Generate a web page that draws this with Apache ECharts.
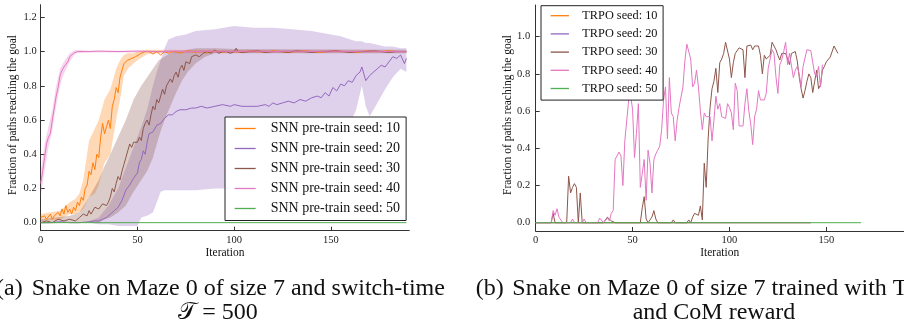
<!DOCTYPE html>
<html><head><meta charset="utf-8">
<script src="https://cdn.jsdelivr.net/npm/echarts@6/dist/echarts.min.js"></script>
<style>html,body{margin:0;padding:0;background:#fff}#c{width:904px;height:325px}</style>
</head><body><div id="c"></div><script>
// ---------- Panel (a): SNN pre-train ----------
const leftNames = ['SNN pre-train seed: 10','SNN pre-train seed: 20','SNN pre-train seed: 30','SNN pre-train seed: 40','SNN pre-train seed: 50'];
const rightNames = ['TRPO seed: 10','TRPO seed: 20','TRPO seed: 30','TRPO seed: 40','TRPO seed: 50'];
const colors = ['#ff7f0e','#9467bd','#8c564b','#e377c2','#4fae4f'];
const xTicks = [0,50,100,150];
const yTicksLeft = [0,0.2,0.4,0.6,0.8,1.0,1.2];
const yTicksRight = [0,0.2,0.4,0.6,0.8,1.0];

const a10 = [[0,0.03],[1,0.02],[2,0.04],[3,0.02],[4,0.03],[5,0.05],[6,0.02],[7,0.04],[8,0.03],[9,0.06],[10,0.04],[11,0.08],[12,0.05],[13,0.1],[14,0.06],[15,0.08],[16,0.05],[17,0.09],[18,0.07],[19,0.12],[20,0.1],[21,0.15],[22,0.13],[23,0.2],[24,0.22],[25,0.3],[26,0.28],[27,0.35],[28,0.31],[29,0.4],[30,0.38],[31,0.5],[32,0.58],[33,0.52],[34,0.56],[35,0.6],[36,0.55],[37,0.68],[38,0.72],[39,0.79],[40,0.76],[41,0.85],[42,0.84],[43,0.93],[44,0.92],[45,0.95],[46,0.94],[47,0.96],[48,0.95],[49,0.97],[50,0.98],[52,0.99],[54,1.0],[56,1.0],[58,0.985],[60,1.0],[62,0.98],[64,1.0],[66,0.99],[68,1.0],[70,1.0],[72,0.99],[74,1.0],[76,1.005],[78,1.0],[80,0.995],[82,1.0],[84,1.0],[86,0.99],[88,1.0],[90,1.005],[92,1.0],[94,0.995],[96,1.0],[98,1.0],[100,1.0],[104,0.995],[108,1.005],[112,1.0],[116,0.995],[120,1.005],[124,1.0],[128,0.995],[132,1.0],[136,1.005],[140,1.0],[144,0.995],[148,1.0],[152,1.005],[156,1.0],[160,1.0],[164,0.995],[168,1.005],[172,1.0],[176,1.0],[180,1.005],[184,1.0],[188,1.0],[189,1.0]];
const a10Band = [[0,0.01,0.05],[10,0.02,0.07],[15,0.05,0.12],[18,0.05,0.14],[20,0.06,0.17],[22,0.08,0.25],[25,0.15,0.48],[28,0.17,0.55],[30,0.22,0.6],[33,0.35,0.72],[36,0.4,0.78],[39,0.6,0.9],[41,0.72,0.95],[43,0.86,0.98],[45,0.9,0.99],[48,0.93,0.99],[50,0.95,1.0],[55,0.985,1.01],[60,0.99,1.01],[189,0.995,1.005]];

const a20 = [[0,0.0],[5,0.0],[10,0.005],[15,0.0],[20,0.0],[25,0.005],[28,0.01],[30,0.01],[32,0.02],[34,0.03],[36,0.05],[38,0.07],[40,0.09],[42,0.13],[44,0.19],[46,0.22],[48,0.26],[50,0.29],[51,0.35],[52,0.37],[53,0.42],[54,0.40],[55,0.47],[56,0.52],[58,0.53],[60,0.57],[62,0.58],[64,0.61],[66,0.63],[68,0.63],[70,0.65],[72,0.66],[75,0.66],[78,0.67],[80,0.67],[83,0.68],[86,0.67],[90,0.68],[94,0.69],[98,0.68],[100,0.69],[104,0.68],[108,0.68],[112,0.68],[116,0.69],[118,0.68],[120,0.70],[122,0.69],[125,0.70],[128,0.71],[131,0.70],[134,0.72],[137,0.71],[140,0.73],[143,0.74],[145,0.73],[147,0.76],[149,0.74],[151,0.79],[153,0.77],[155,0.81],[157,0.80],[159,0.83],[161,0.82],[163,0.86],[165,0.88],[166,0.91],[167,0.87],[168,0.83],[170,0.86],[172,0.88],[174,0.90],[176,0.92],[178,0.91],[180,0.94],[182,0.97],[184,0.96],[186,0.98],[187,0.97],[188,0.93],[189,0.96]];
const a20Band = [[25,0.0,0.01],[30,-0.01,0.03],[35,-0.01,0.1],[40,-0.02,0.2],[45,-0.02,0.35],[50,-0.02,0.5],[52,0.03,0.56],[55,0.04,0.66],[58,0.06,0.8],[60,0.12,0.88],[62,0.18,0.95],[64,0.19,1.02],[66,0.19,1.07],[70,0.19,1.09],[75,0.19,1.1],[80,0.19,1.12],[90,0.2,1.13],[100,0.2,1.15],[110,0.21,1.14],[120,0.21,1.14],[130,0.21,1.13],[140,0.22,1.12],[150,0.3,1.1],[155,0.45,1.09],[160,0.58,1.07],[163,0.66,1.06],[166,0.8,1.06],[168,0.68,1.05],[170,0.62,1.05],[174,0.7,1.04],[178,0.78,1.03],[182,0.85,1.03],[186,0.9,1.02],[189,0.88,1.02]];

const a30 = [[0,0.0],[3,0.01],[6,0.0],[9,0.02],[12,0.01],[15,0.02],[18,0.01],[20,0.03],[22,0.05],[24,0.04],[25,0.07],[26,0.05],[28,0.09],[30,0.08],[32,0.11],[34,0.1],[35,0.12],[36,0.15],[37,0.2],[38,0.18],[39,0.23],[40,0.27],[41,0.25],[42,0.3],[43,0.34],[44,0.38],[45,0.42],[46,0.46],[47,0.44],[48,0.47],[49,0.46],[50,0.47],[51,0.5],[52,0.48],[53,0.55],[54,0.58],[55,0.6],[56,0.57],[57,0.63],[58,0.68],[59,0.66],[60,0.72],[61,0.7],[62,0.74],[63,0.78],[64,0.75],[65,0.8],[66,0.79],[67,0.84],[68,0.82],[69,0.86],[70,0.88],[71,0.85],[72,0.9],[73,0.92],[74,0.89],[75,0.94],[76,0.95],[77,0.93],[78,0.97],[79,0.96],[80,0.98],[82,0.97],[84,0.99],[86,1.0],[88,0.99],[90,1.01],[92,0.99],[94,1.0],[96,1.0],[98,0.99],[100,1.0],[101,1.02],[102,1.0],[104,0.995],[108,1.0],[112,1.005],[116,0.995],[120,1.0],[124,1.0],[128,0.995],[132,1.005],[136,1.0],[140,0.995],[144,1.0],[148,1.0],[152,1.005],[156,1.0],[160,0.995],[164,1.0],[168,1.0],[172,1.005],[176,1.0],[180,0.995],[184,1.0],[188,1.0],[189,1.0]];
const a30Band = [[0,-0.005,0.02],[15,0.0,0.04],[20,0.0,0.06],[25,0.0,0.15],[30,0.0,0.25],[33,0.02,0.33],[36,0.03,0.4],[40,0.06,0.5],[44,0.1,0.6],[48,0.18,0.72],[52,0.25,0.8],[55,0.3,0.85],[58,0.38,0.9],[61,0.5,0.95],[64,0.6,0.97],[67,0.68,0.99],[70,0.76,1.0],[73,0.83,1.0],[76,0.88,1.01],[80,0.93,1.02],[85,0.97,1.02],[90,0.99,1.02],[100,0.99,1.015],[189,0.99,1.01]];

const a40 = [[0,0.23],[1,0.3],[2,0.38],[3,0.46],[4,0.5],[5,0.52],[6,0.6],[7,0.67],[8,0.74],[9,0.79],[10,0.86],[11,0.89],[12,0.91],[13,0.92],[14,0.94],[15,0.97],[16,0.97],[17,0.99],[18,1.0],[19,1.0],[20,0.995],[22,1.0],[25,1.0],[30,1.003],[40,1.0],[50,1.003],[60,1.0],[70,1.003],[80,1.0],[90,1.003],[100,1.0],[110,1.003],[120,1.0],[130,1.003],[140,1.0],[150,1.003],[160,1.0],[170,1.003],[180,1.0],[189,1.0]];
const a40Band = [[0,0.15,0.3],[2,0.3,0.46],[4,0.44,0.56],[6,0.54,0.66],[8,0.68,0.8],[10,0.8,0.9],[12,0.87,0.94],[15,0.94,0.99],[18,0.99,1.01],[25,0.995,1.005],[189,0.995,1.005]];

const a50 = [[0,0.0],[189,0.0]];

// ---------- Panel (b): TRPO ----------
const b10 = [[0,0],[142,0]];
const b20 = [[0,0],[142,0]];
const b30 = [[0,0],[8,0],[9,0.05],[10,0],[16,0],[17,0.25],[18,0.16],[19,0.19],[20,0.21],[21,0.19],[22,0],[23,0.16],[24,0],[35,0],[36,0.01],[37,0.03],[38,0.04],[39,0.01],[40,0.02],[41,0],[54,0],[55,0.08],[56,0.14],[57,0.02],[58,0],[59,0],[60,0.03],[61,0.065],[62,0.02],[63,0],[65,0],[66,0.01],[67,0],[70,0],[71,0.015],[72,0],[78,0],[79,0.015],[80,0],[81,0.03],[82,0.05],[83,0.05],[84,0.04],[85,0.09],[86,0.015],[87,0.32],[88,0.19],[89,0.45],[90,0.62],[91,0.72],[92,0.76],[93,0.83],[94,0.7],[95,0.86],[96,0.88],[97,0.91],[98,0.97],[99,0.97],[100,0.88],[101,0.78],[102,0.86],[103,0.91],[104,0.9],[105,0.94],[106,0.94],[107,0.93],[108,0.78],[109,0.95],[110,0.96],[111,0.955],[112,0.93],[113,0.95],[114,0.955],[115,0.95],[116,0.9],[117,0.8],[118,0.9],[119,0.88],[120,0.87],[121,0.9],[122,0.97],[123,0.96],[124,0.93],[125,0.9],[126,0.875],[127,0.91],[128,0.9],[129,0.91],[130,0.91],[131,0.85],[132,0.91],[133,0.92],[134,0.92],[135,0.87],[136,0.785],[137,0.72],[138,0.67],[139,0.71],[140,0.76],[141,0.8],[142,0.78],[143,0.7],[144,0.76],[145,0.82],[146,0.72],[147,0.74],[148,0.82],[149,0.84],[150,0.865],[151,0.87],[152,0.89],[153,0.9],[154,0.95],[155,0.93],[156,0.91]];
const b40 = [[0,0],[8,0],[9,0.065],[10,0.04],[11,0.075],[12,0.03],[13,0.03],[14,0],[18,0],[19,0.02],[20,0],[24,0],[25,0.02],[26,0],[32,0],[33,0.025],[34,0.025],[35,0],[36,0],[37,0.025],[38,0.01],[39,0.05],[40,0.065],[41,0.34],[42,0.34],[43,0.38],[44,0.36],[45,0.2],[46,0.44],[47,0.45],[48,0.66],[49,0.68],[50,0.61],[51,0.35],[52,0.48],[53,0.64],[54,0.19],[55,0.19],[56,0.34],[57,0.12],[58,0.39],[59,0.32],[60,0.16],[61,0.34],[62,0.37],[63,0.39],[64,0.41],[65,0.5],[66,0.66],[67,0.73],[68,0.45],[69,0.78],[70,0.59],[71,0.57],[72,0.44],[73,0.55],[74,0.62],[75,0.63],[76,0.73],[77,0.87],[78,0.96],[79,0.95],[80,0.88],[81,0.73],[82,0.75],[83,0.82],[84,0.73],[85,0.6],[86,0.5],[87,0.59],[88,0.57],[89,0.57],[90,0.57],[91,0.44],[92,0.55],[93,0.68],[94,0.61],[95,0.64],[96,0.57],[97,0.57],[98,0.56],[99,0.64],[100,0.62],[101,0.59],[102,0.5],[103,0.75],[104,0.71],[105,0.52],[106,0.51],[107,0.52],[108,0.64],[109,0.72],[110,0.6],[111,0.53],[112,0.42],[113,0.57],[114,0.61],[115,0.71],[116,0.66],[117,0.67],[118,0.66],[119,0.695],[120,0.83],[121,0.84],[122,0.93],[123,0.91],[124,0.785],[125,0.695],[126,0.85],[127,0.875],[128,0.92],[129,0.97],[130,0.85],[131,0.91],[132,0.91],[133,0.78],[134,0.82],[135,0.84],[136,0.8],[137,0.73],[138,0.84],[139,0.83],[140,0.93],[141,0.925],[142,0.925],[143,0.925],[144,0.8],[145,0.785],[146,0.84],[147,0.73],[148,0.85]];
const b50 = [[0,0],[168,0]];

// ---------- Texts ----------
const yTitle = 'Fraction of paths reaching the goal';
const xTitle = 'Iteration';
const capA1 = 'Snake on Maze 0 of size 7 and switch-time';
const capA2 = '\u{1D4AF} = 500';
const capB1 = 'Snake on Maze 0 of size 7 trained with TRPO';
const capB2 = 'and CoM reward';

const SERIF = '"Liberation Serif", "DejaVu Serif", serif';
const AX = '#333';

function xAxis(gi, max) {
  return {type:'value', gridIndex:gi, min:0, max:max,
    axisLine:{show:true, onZero:false, lineStyle:{color:AX, width:1}},
    axisTick:{show:true, inside:true, length:4, customValues:xTicks, lineStyle:{color:AX}},
    axisLabel:{customValues:xTicks, margin:4, fontFamily:SERIF, fontSize:10.5, color:'#222'},
    splitLine:{show:false}};
}
function yAxis(gi, min, max, ticks, margin) {
  return {type:'value', gridIndex:gi, min:min, max:max,
    axisLine:{show:true, onZero:false, lineStyle:{color:AX, width:1}},
    axisTick:{show:true, inside:true, length:4, customValues:ticks, lineStyle:{color:AX}},
    axisLabel:{customValues:ticks, margin:margin, fontFamily:SERIF, fontSize:10.5, color:'#222',
      formatter:function(v){return v.toFixed(1);}},
    splitLine:{show:false}};
}
function line(name, data, color, gi) {
  return {type:'line', name:name, data:data, xAxisIndex:gi, yAxisIndex:gi,
    symbol:'none', showSymbol:false, clip:true, animation:false, z:3,
    lineStyle:{color:color, width:1}, itemStyle:{color:color}};
}
function band(data, color, gi) {
  return {type:'custom', xAxisIndex:gi, yAxisIndex:gi, data:data, silent:true, animation:false, z:1,
    encode:{x:0, y:[1,2]},
    renderItem:function(params, api){
      if (params.dataIndex !== 0) return null;
      const pts = [];
      for (let i = 0; i < data.length; i++) pts.push(api.coord([data[i][0], data[i][2]]));
      for (let i = data.length - 1; i >= 0; i--) pts.push(api.coord([data[i][0], data[i][1]]));
      return {type:'polygon', shape:{points:pts}, style:{fill:color, opacity:0.3}};
    }};
}
function legend(names, left, top, pad, iw, ih, gap, fs, tpad) {
  return {data:names, orient:'vertical', left:left, top:top, padding:pad,
    itemWidth:iw, itemHeight:ih, itemGap:gap, selectedMode:false,
    backgroundColor:'#fff', borderColor:'#222', borderWidth:1, borderRadius:0,
    itemStyle:{opacity:0},
    lineStyle:{width:1.3},
    textStyle:{fontFamily:SERIF, fontSize:fs, color:'#111', lineHeight:ih, padding:[0,0,0,tpad]}};
}
function txt(x, y, s, size, align, rot) {
  return {type:'text', x:x, y:y, rotation:rot||0, silent:true,
    style:{text:s, fill:'#111', font: size + 'px ' + SERIF, align:align, verticalAlign:'middle'}};
}

const chart = echarts.init(document.getElementById('c'), null, {renderer:'canvas'});
chart.setOption({
  animation:false,
  backgroundColor:'#fff',
  grid:[
    {left:40.7, top:4.7, width:368.6, height:226},
    {left:535.7, top:5, width:368.3, height:226}
  ],
  xAxis:[xAxis(0, 190.5), xAxis(1, 190.1)],
  yAxis:[yAxis(0, -0.047, 1.274, yTicksLeft, 4), yAxis(1, -0.0446, 1.1704, yTicksRight, 5.5)],
  legend:[
    legend(leftNames, 225, 117, [4.5,6,5,9], 21, 14, 6, 14, 10),
    legend(rightNames, 541, 5.7, [4,5.6,5.6,9], 18.3, 12, 6.2, 12.3, 8.4)
  ],
  series:[
    band(a10Band, colors[0], 0), band(a20Band, colors[1], 0), band(a30Band, colors[2], 0), band(a40Band, colors[3], 0),
    line(leftNames[0], a10, colors[0], 0),
    line(leftNames[1], a20, colors[1], 0),
    line(leftNames[2], a30, colors[2], 0),
    line(leftNames[3], a40, colors[3], 0),
    line(leftNames[4], a50, colors[4], 0),
    line(rightNames[0], b10, colors[0], 1),
    line(rightNames[1], b20, colors[1], 1),
    line(rightNames[2], b30, colors[2], 1),
    line(rightNames[3], b40, colors[3], 1),
    line(rightNames[4], b50, colors[4], 1)
  ],
  graphic:[
    txt(13.3, 115, yTitle, 11.5, 'center', Math.PI/2),
    txt(507.7, 115, yTitle, 11.5, 'center', Math.PI/2),
    txt(225, 252.5, xTitle, 11.5, 'center'),
    txt(719.7, 252.5, xTitle, 11.5, 'center'),
    txt(22.7, 288.7, '(a)', 24, 'right'),
    txt(31.7, 288.7, capA1, 24, 'left'),
    txt(218, 313, capA2, 24, 'center'),
    txt(475.7, 288.7, '(b)', 24, 'left'),
    txt(512.3, 288.7, capB1, 24, 'left'),
    txt(714, 313, capB2, 24, 'center')
  ]
});
</script></body></html>
